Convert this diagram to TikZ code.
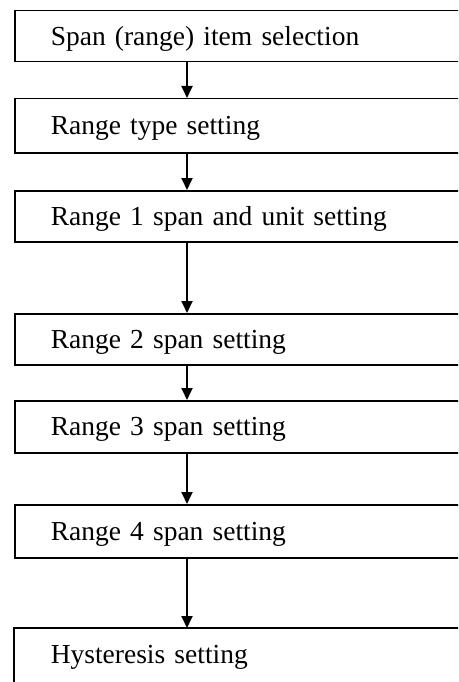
\documentclass[tikz,border=0pt]{standalone}
\usepackage{fontspec}
\setmainfont{Liberation Serif}
\usetikzlibrary{arrows.meta}
\begin{document}
\begin{tikzpicture}[x=1pt,y=-1pt,
  boxline/.style={draw=black, line width=1.5pt},
  stepbox/.style={boxline, rectangle, anchor=north west,
    minimum width=480pt, text width=430pt, align=left, inner xsep=36pt, inner ysep=0pt,
    text height=18.2pt, text depth=0pt, font=\fontsize{27.5pt}{30pt}\selectfont},
  arr/.style={line width=1.8pt, -{Triangle[length=12pt,width=11pt]}}]
\useasboundingbox (0,0) rectangle (458,682);
\clip (0,0) rectangle (458,682);
\coordinate (ax) at (187,0);
\node[stepbox, minimum height=51pt] (b1) at (14,10) {Span (range) item selection};
\node[stepbox, minimum height=54pt] (b2) at (14,98) {Range type setting};
\node[stepbox, minimum height=51pt] (b3) at (14,190) {Range 1 span and unit setting};
\node[stepbox, minimum height=51pt] (b4) at (14,313) {Range 2 span setting};
\node[stepbox, minimum height=52pt] (b5) at (14,400) {Range 3 span setting};
\node[stepbox, minimum height=53pt] (b6) at (14,504) {Range 4 span setting};
\node[stepbox, draw=none, minimum height=51pt] (b7) at (14,628) {Hysteresis setting};
\draw[boxline] ([yshift=-40pt]b7.south west) -- (b7.north west) -- (b7.north east) -- ([yshift=-40pt]b7.south east);
\foreach \a/\b in {b1/b2,b2/b3,b3/b4,b4/b5,b5/b6,b6/b7}
  \draw[arr] (\a.south -| ax) -- (\b.north -| ax);
\end{tikzpicture}
\end{document}
